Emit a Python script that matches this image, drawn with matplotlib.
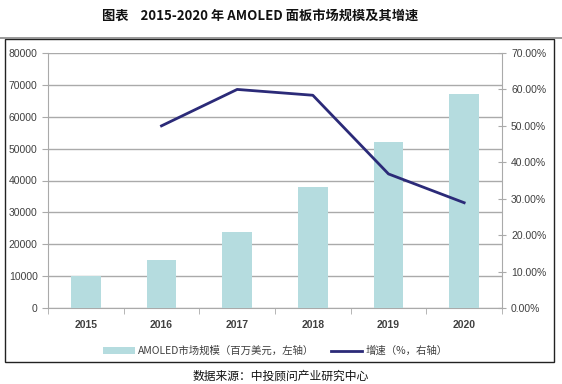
import matplotlib
matplotlib.use("Agg")
import matplotlib.pyplot as plt
from matplotlib.patches import Rectangle, Patch
from matplotlib.lines import Line2D
from matplotlib.ticker import FuncFormatter

plt.rcParams['font.family'] = ['Noto Sans CJK SC', 'DejaVu Sans']

years = ['2015', '2016', '2017', '2018', '2019', '2020']
market = [10000, 15000, 24000, 38000, 52000, 67000]
growth_years = ['2016', '2017', '2018', '2019', '2020']
growth = [50.0, 60.0, 58.4, 36.8, 28.9]

title = '图表    2015-2020 年 AMOLED 面板市场规模及其增速'
bar_label = 'AMOLED市场规模（百万美元，左轴）'
line_label = '增速（%，右轴）'
source = '数据来源：中投顾问产业研究中心'

W, H = 562, 384
fig = plt.figure(figsize=(W / 100, H / 100), dpi=100)

# frame and title rule
fig.add_artist(Line2D([0, 1], [1 - 38 / H, 1 - 38 / H], color='#888888', lw=1.2,
                      transform=fig.transFigure))
fig.add_artist(Rectangle((5 / W, 1 - 362 / H), (554 - 5) / W, (362 - 39) / H,
                         fill=False, edgecolor='#222222', lw=1.0,
                         transform=fig.transFigure))

fig.text(260 / W, 1 - 16 / H, title, ha='center', va='center', fontsize=9.5,
         fontweight='bold', color='#111111')
fig.text(0.5, 1 - 376 / H, source, ha='center', va='center', fontsize=8.5,
         color='#111111')

num_font = ['Liberation Sans', 'DejaVu Sans']
grid_col = '#aaaaaa'

ax = fig.add_axes([48 / W, 1 - 308 / H, (502 - 48) / W, (308 - 53) / H])
x = list(range(len(years)))
bar_color = '#b5dcdf'
line_color = '#2b2a78'
ax.bar(x, market, width=0.39, color=bar_color, zorder=3)
ax.set_xlim(-0.5, len(years) - 0.5)
ax.set_ylim(0, 80000)
ax.set_yticks(range(0, 80001, 10000))
ax.yaxis.grid(True, color=grid_col, lw=1.0, zorder=0)
ax.set_axisbelow(True)
ax.set_xticks(x)
ax.set_xticklabels(years)
ax.set_xticks([i - 0.5 for i in range(len(years) + 1)], minor=True)
ax.tick_params(axis='x', which='major', length=0, pad=9, labelsize=7.5, labelcolor='#404040')
ax.tick_params(axis='x', which='minor', length=4, color=grid_col, direction='out')
ax.tick_params(axis='y', length=4, color=grid_col, labelsize=7.5, labelcolor='#404040')
for lab in ax.get_xticklabels() + ax.get_yticklabels():
    lab.set_family(num_font)
for lab in ax.get_xticklabels():
    lab.set_fontweight('bold')
for s in ['top', 'right']:
    ax.spines[s].set_visible(False)
for s in ['left', 'bottom']:
    ax.spines[s].set_color(grid_col)

ax2 = ax.twinx()
gx = [years.index(y) for y in growth_years]
ax2.plot(gx, growth, color=line_color, lw=2.0, zorder=5)
ax2.set_ylim(0, 70)
ax2.set_yticks(range(0, 71, 10))
ax2.yaxis.set_major_formatter(FuncFormatter(lambda v, p: f'{v:.2f}%'))
ax2.tick_params(axis='y', length=6, direction='inout', color=grid_col,
                labelsize=7.5, labelcolor='#404040')
for lab in ax2.get_yticklabels():
    lab.set_family(num_font)
for s in ['top', 'left', 'bottom']:
    ax2.spines[s].set_visible(False)
ax2.spines['right'].set_color(grid_col)

handles = [Patch(facecolor=bar_color, edgecolor='none'),
           Line2D([0], [0], color=line_color, lw=2.0)]
leg = fig.legend(handles, [bar_label, line_label], loc='center',
                 bbox_to_anchor=(0.49, 1 - 351 / H), ncol=2, frameon=False,
                 fontsize=7.5, handlelength=3.0, handleheight=0.7,
                 columnspacing=1.6, handletextpad=0.3)
for t in leg.get_texts():
    t.set_color('#404040')

fig.savefig('out.png', dpi=100)
